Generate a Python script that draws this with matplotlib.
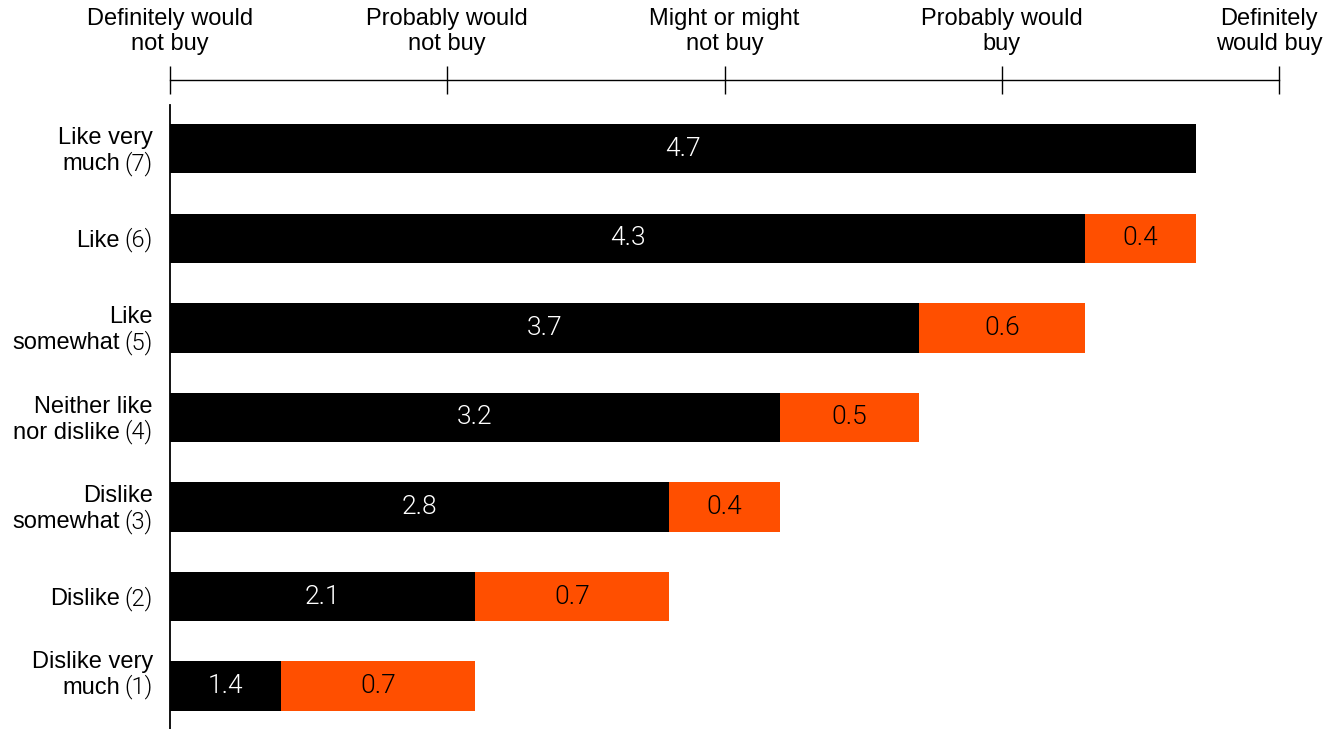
import numpy as np
import matplotlib
matplotlib.use('Agg')
import matplotlib.pyplot as plt
from matplotlib.transforms import ScaledTranslation

plt.rcParams['font.family'] = ['Liberation Sans', 'DejaVu Sans']
LIGHT = dict(family=['Roboto', 'Liberation Sans'], weight=300)

# rows, top to bottom
row_words = [['Like very', 'much'], ['Like'], ['Like', 'somewhat'],
             ['Neither like', 'nor dislike'], ['Dislike', 'somewhat'],
             ['Dislike'], ['Dislike very', 'much']]
row_codes = ['(7)', '(6)', '(5)', '(4)', '(3)', '(2)', '(1)']
base_vals = [4.7, 4.3, 3.7, 3.2, 2.8, 2.1, 1.4]
gap_vals = [0.0, 0.4, 0.6, 0.5, 0.4, 0.7, 0.7]

scale_pos = [1, 2, 3, 4, 5]
scale_labels = ['Definitely would\nnot buy', 'Probably would\nnot buy',
                'Might or might\nnot buy', 'Probably would\nbuy',
                'Definitely\nwould buy']

BLACK = '#000000'
ORANGE = '#FF4F00'
ORIGIN = 1
FS = 17

fig = plt.figure(figsize=(13.26, 7.29), dpi=100)
ax = fig.add_axes([170/1326, 0, 1109/1326, 624/729])

y = np.arange(len(base_vals))
base = np.array(base_vals)
gap = np.array(gap_vals)

ax.barh(y, base - ORIGIN, left=ORIGIN, height=0.55, color=BLACK)
has_gap = gap > 0
ax.barh(y[has_gap], gap[has_gap], left=base[has_gap], height=0.55, color=ORANGE)

# values inside the bars
for yi, b, g in zip(y, base, gap):
    ax.text((ORIGIN + b) / 2, yi, f'{b:.1f}', color='white', fontsize=19,
            ha='center', va='center', **LIGHT)
    if g > 0:
        ax.text(b + g / 2, yi, f'{g:.1f}', color=BLACK, fontsize=19,
                ha='center', va='center', **LIGHT)

ax.set_xlim(1, 5)
ax.set_ylim(len(base_vals) - 0.52, -0.49)

# purchase-intent scale on top
ax.xaxis.tick_top()
ax.set_xticks(scale_pos, scale_labels)
ax.tick_params(axis='x', direction='inout', length=20, width=1, pad=8,
               labelsize=FS, colors=BLACK)
ax.spines['top'].set_position(('outward', 18))
ax.spines['top'].set_linewidth(1)
ax.spines['left'].set_linewidth(1.3)
ax.spines['right'].set_visible(False)
ax.spines['bottom'].set_visible(False)
ax.set_yticks([])
last = ax.get_xticklabels()[-1]
last.set_transform(last.get_transform() + ScaledTranslation(-10/100, 0, fig.dpi_scale_trans))

# row labels: words plus the scale code, built line by line
renderer = fig.canvas.get_renderer()
for yi, words, code in zip(y, row_words, row_codes):
    if len(words) == 2:
        offs = [13 - 8.5, -13 - 8.5]
    else:
        offs = [-8.5]
    # bottom label sits a little higher, as in the original
    lift = 14 if yi == len(base_vals) - 1 else 0
    for k, (w, off) in enumerate(zip(words, offs)):
        off = off + lift
        is_last = k == len(words) - 1
        if is_last:
            t = ax.annotate(code, xy=(0, yi), xycoords=('axes fraction', 'data'),
                            xytext=(-17, off), textcoords='offset pixels',
                            ha='right', va='baseline', fontsize=FS, color=BLACK, **LIGHT)
            cw = t.get_window_extent(renderer).width
            ax.annotate(w, xy=(0, yi), xycoords=('axes fraction', 'data'),
                        xytext=(-17 - cw - 5, off), textcoords='offset pixels',
                        ha='right', va='baseline', fontsize=FS, color=BLACK)
        else:
            ax.annotate(w, xy=(0, yi), xycoords=('axes fraction', 'data'),
                        xytext=(-17, off), textcoords='offset pixels',
                        ha='right', va='baseline', fontsize=FS, color=BLACK)

fig.savefig('out.png', dpi=100)
